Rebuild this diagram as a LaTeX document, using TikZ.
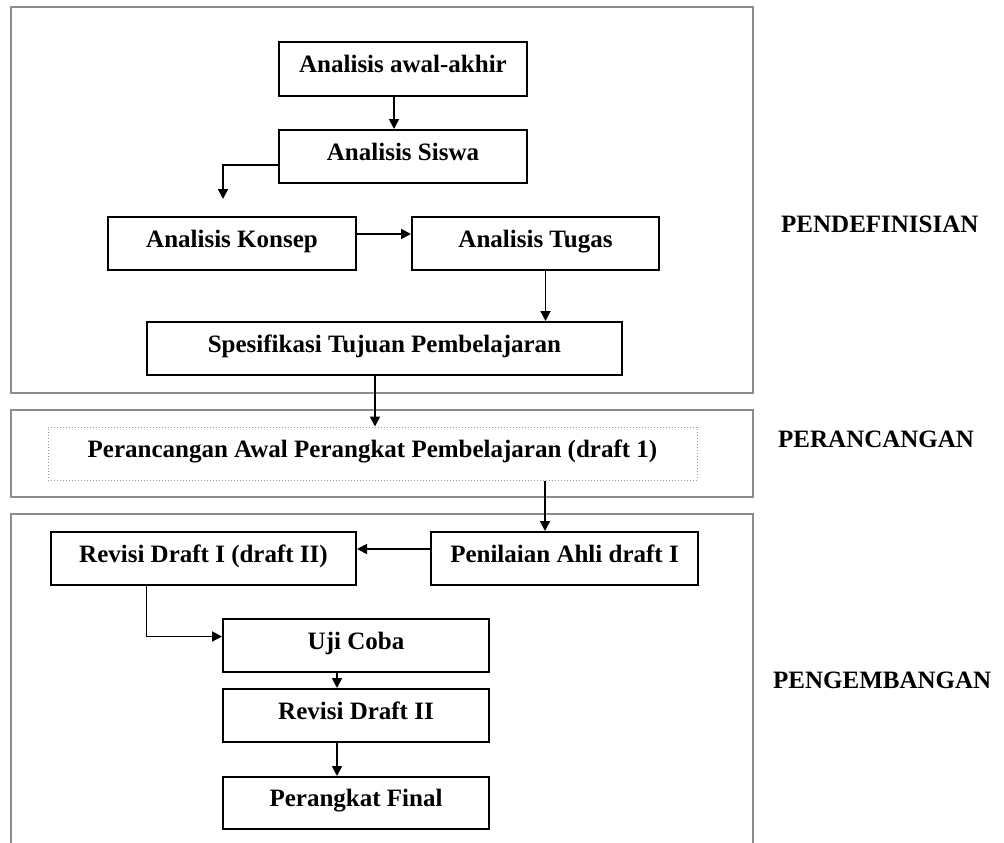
\documentclass[tikz,border=0pt]{standalone}
\usepackage{fontspec}
\setmainfont{Liberation Serif}
\usetikzlibrary{arrows.meta,calc}
\begin{document}
\begin{tikzpicture}[x=1pt,y=-1pt,
  every node/.style={font=\bfseries\fontsize{25}{30}\selectfont},
  stepbox/.style={draw=black,line width=2pt,rectangle,inner sep=0pt,minimum height=53pt,text height=18pt,text depth=11pt},
  dotbox/.style={draw=gray!80,dotted,line width=1pt,rectangle,inner sep=0pt,minimum height=53pt,text height=18pt,text depth=10pt},
  frame/.style={draw=black!45,line width=1.8pt},
  arr/.style={draw=black,line width=1.8pt,-{Triangle[length=10pt,width=10pt]}},
  phase/.style={anchor=west,inner sep=0pt}]
\useasboundingbox (0,0) rectangle (1004,843);
% frames
\draw[frame] (11,7) rectangle (753,393);
\draw[frame] (11,410) rectangle (753,497);
\draw[frame] (11,843) -- (11,514) -- (753,514) -- (753,843);
% nodes
\node[stepbox,minimum width=248pt] (a1) at (403,69) {Analisis awal-akhir};
\node[stepbox,minimum width=248pt] (a2) at (403,156.5) {Analisis Siswa};
\node[stepbox,minimum width=248pt] (a3) at (232,243.5) {Analisis Konsep};
\node[stepbox,minimum width=247pt] (a4) at (535.5,243.5) {Analisis Tugas};
\node[stepbox,minimum width=475pt] (a5) at (384.5,348.5) {Spesifikasi Tujuan Pembelajaran};
\node[dotbox,minimum width=649pt] (d1) at (372.5,453.5) {Perancangan Awal Perangkat Pembelajaran (draft 1)};
\node[stepbox,minimum width=267pt] (p1) at (564.5,558.5) {Penilaian Ahli draft I};
\node[stepbox,minimum width=305pt] (r1) at (203.5,558.5) {Revisi Draft I (draft II)};
\node[stepbox,minimum width=266pt] (u1) at (356,645.5) {Uji Coba};
\node[stepbox,minimum width=266pt] (r2) at (356,715.5) {Revisi Draft II};
\node[stepbox,minimum width=266pt,minimum height=52pt] (f1) at (356,803) {Perangkat Final};
\coordinate (k1) at (223,199);
% phase labels
\node[phase] (l1) at (781,224) {PENDEFINISIAN};
\node[phase] (l2) at (778,439) {PERANCANGAN};
\node[phase] (l3) at (773,680) {PENGEMBANGAN};
% connectors
\draw[arr] ([xshift=-9pt]a1.south) -- ([xshift=-9pt]a2.north);
\draw[arr] ([yshift=-8.5pt]a2.west) -| (k1);
\draw[arr] ([yshift=9.5pt]a3.east) -- ([yshift=9.5pt]a4.west);
\draw[arr] ([xshift=10pt]a4.south) -- ([xshift=10pt]a4.south |- a5.north);
\draw[arr] ([xshift=-9.5pt]a5.south) -- ([xshift=-9.5pt]a5.south |- d1.north);
\draw[arr] ([xshift=172.5pt]d1.south) -- ([xshift=172.5pt]d1.south |- p1.north);
\draw[arr] ([yshift=9.5pt]p1.west) -- ([yshift=9.5pt]r1.east);
\draw[arr] ([xshift=-57pt]r1.south) |- ([yshift=9pt]u1.west);
\draw[arr] ([xshift=-19pt]u1.south) -- ([xshift=-19pt]r2.north);
\draw[arr] ([xshift=-19pt]r2.south) -- ([xshift=-19pt]f1.north);
\end{tikzpicture}
\end{document}
